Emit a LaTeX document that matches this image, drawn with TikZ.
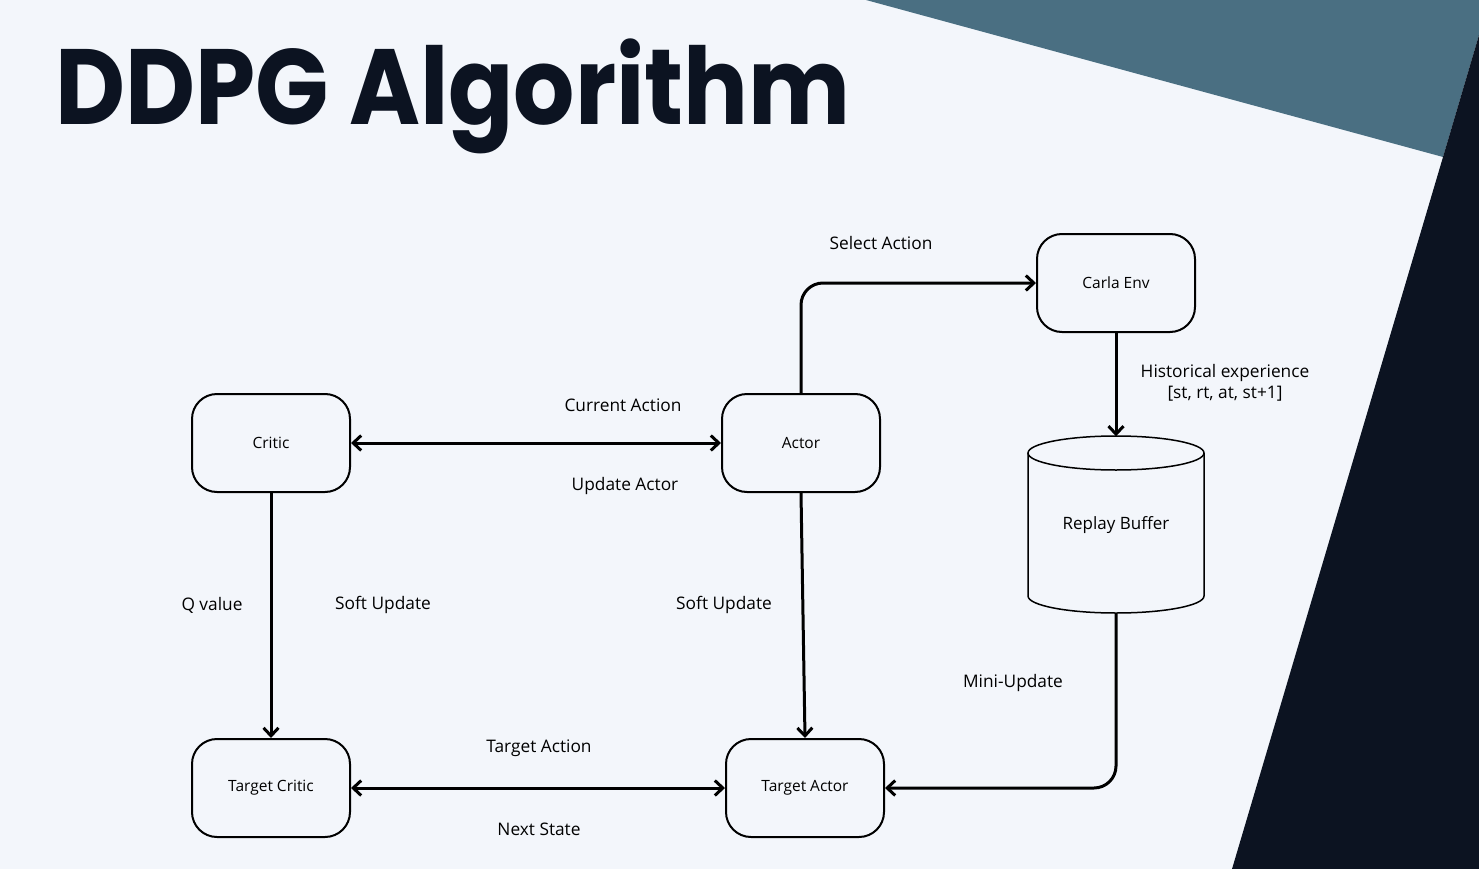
\documentclass[tikz,border=0pt]{standalone}
\usepackage{fontspec}
\setmainfont{Open Sans}
\newfontfamily\titlefont{Poppins}
\usetikzlibrary{arrows.meta, positioning, shapes.geometric}
\definecolor{bgpaper}{HTML}{F3F6FB}
\definecolor{slateteal}{HTML}{4A6F82}
\definecolor{inkdark}{HTML}{0C1321}
\begin{document}
\begin{tikzpicture}[
        x=1pt, y=-1pt,
        block/.style={rectangle, rounded corners=25pt, draw=black, line width=2pt, minimum width=158pt, minimum height=98pt, font=\fontsize{15.5}{18}\selectfont},
        store/.style={rectangle, inner sep=0pt, minimum width=176pt, minimum height=177pt, font=\fontsize{17}{20}\selectfont},
        drum/.style={draw=black, line width=1.5pt},
        arrow/.style={-{Straight Barb[length=8pt, width=15pt, line width=3pt]}, line width=3pt},
        biarrow/.style={{Straight Barb[length=8pt, width=15pt, line width=3pt]}-{Straight Barb[length=8pt, width=15pt, line width=3pt]}, line width=3pt},
        lbl/.style={font=\fontsize{17.3}{21}\selectfont}
    ]
        % Background
        \useasboundingbox (0,0) rectangle (1479,869);
        \fill[bgpaper] (0,0) rectangle (1479,869);
        \fill[slateteal] (866,0) -- (1479,0) -- (1479,35) -- (1443,157) -- cycle;
        \fill[inkdark] (1479,35) -- (1443,157) -- (1232,869) -- (1479,869) -- cycle;

        % Title
        \node[anchor=base west, inner sep=0pt, text=inkdark, xscale=0.9, font=\titlefont\bfseries\fontsize{107}{110}\selectfont] (title) at (55,125) {DDPG Algorithm};

        % Nodes
        \node[block] (critic) at (271,443) {Critic};
        \node[block] (actor) at (801,443) {Actor};
        \node[block] (env) at (1116,283) {Carla Env};
        \node[block] (tcritic) at (271,788) {Target Critic};
        \node[block] (tactor) at (805,788) {Target Actor};
        \node[store] (buffer) at (1116,525) {Replay Buffer};

        % Replay buffer drum
        \draw[drum] (1116,453) ellipse [x radius=88, y radius=17];
        \draw[drum] (1028,453) -- (1028,596) arc[start angle=180, end angle=0, x radius=88, y radius=17] -- (1204,453);

        % Arrows
        \draw[biarrow] (critic) -- (actor);
        \draw[arrow, rounded corners=22pt] (actor.north) -- (801,283) -- (env.west);
        \draw[arrow] (env.south) -- (buffer.north);
        \draw[arrow] (critic.south) -- (tcritic.north);
        \draw[arrow] (actor.south) -- (tactor.north);
        \draw[biarrow] (tcritic) -- (tactor);
        \draw[arrow, rounded corners=22pt] (buffer.south) -- (buffer.south |- tactor.east) -- (tactor.east);

        % Labels
        \node[lbl] (selectlbl) at (881,243) {Select Action};
        \node[lbl] (currentlbl) at (623,405) {Current Action};
        \node[lbl] (updatelbl) at (625,486) {Update Actor};
        \node[lbl, align=center] (histlbl) at (1225,383) {Historical experience\\{}[st, rt, at, st+1]};
        \node[lbl] (qlbl) at (212,605) {Q value};
        \node[lbl] (softlblA) at (383,605) {Soft Update};
        \node[lbl] (softlblB) at (724,605) {Soft Update};
        \node[lbl] (minilbl) at (1013,683) {Mini-Update};
        \node[lbl] (targetlbl) at (539,748) {Target Action};
        \node[lbl] (nextlbl) at (539,829) {Next State};

    \end{tikzpicture}
\end{document}
